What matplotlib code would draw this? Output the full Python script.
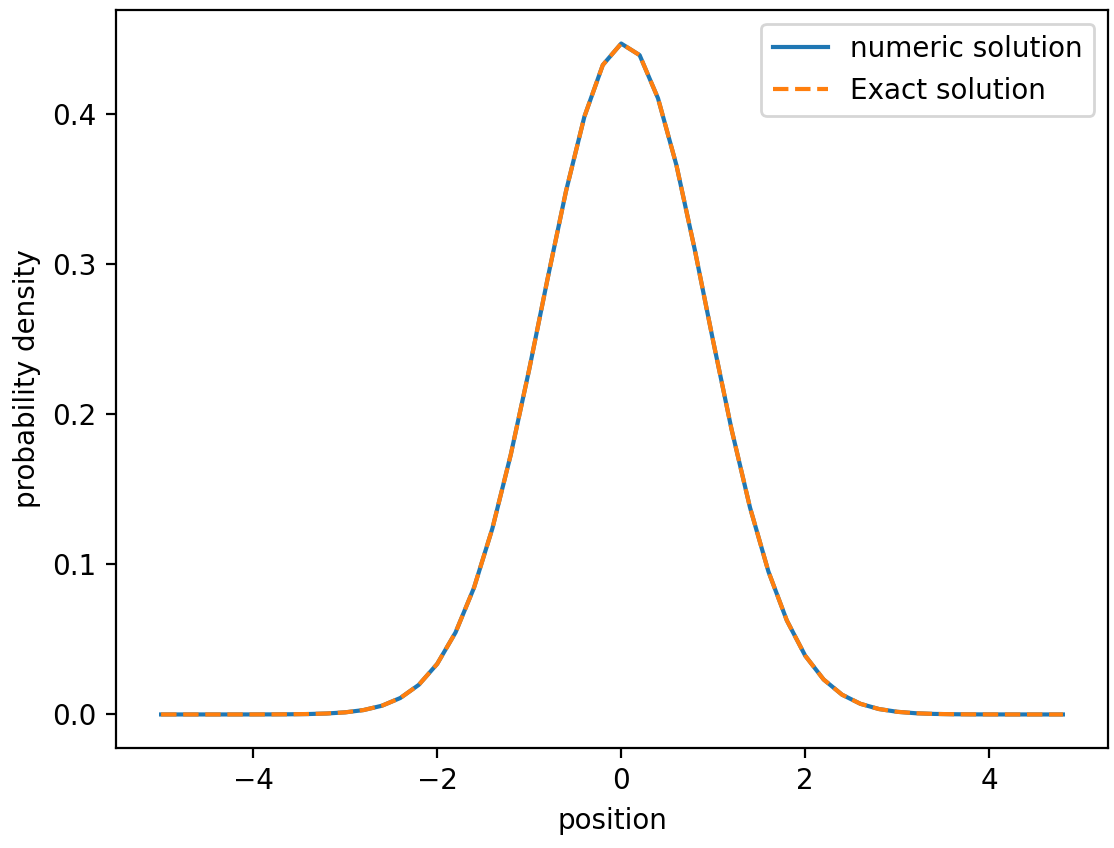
import numpy as np
import matplotlib
matplotlib.use("Agg")
import matplotlib.pyplot as plt

# grid positions, -5 .. 4.8 in steps of 0.2
position = np.round(np.arange(-5.0, 4.9, 0.2), 1)

# probability density
numeric = [
    0.0, 0.0, 0.0, 0.000002, 0.000006, 0.000017, 0.000045, 0.000114,
    0.00028, 0.00064, 0.0014, 0.00293, 0.00582, 0.01098, 0.01972, 0.03365,
    0.05466, 0.08437, 0.1239, 0.1731, 0.2298, 0.2903, 0.3486, 0.3983,
    0.4327, 0.4470, 0.4393, 0.4105, 0.3660, 0.3095, 0.2485, 0.1897,
    0.1378, 0.0952, 0.0626, 0.0391, 0.02327, 0.01316, 0.00708, 0.00362,
    0.00176, 0.00081, 0.00036, 0.00015, 0.00006, 0.000022, 0.000008,
    0.000003, 0.000001, 0.0,
]
exact = list(numeric)

dpi = 200
fig = plt.figure(figsize=(1114 / dpi, 848 / dpi), dpi=dpi)
ax = fig.add_axes([116 / 1114, 1 - 748 / 848, 992 / 1114, 738 / 848])

ax.plot(position, numeric, label="numeric solution")
ax.plot(position, exact, "--", label="Exact solution")

ax.set_xlabel("position")
ax.set_ylabel("probability density")
ax.legend()

fig.savefig("out.png", dpi=dpi)
